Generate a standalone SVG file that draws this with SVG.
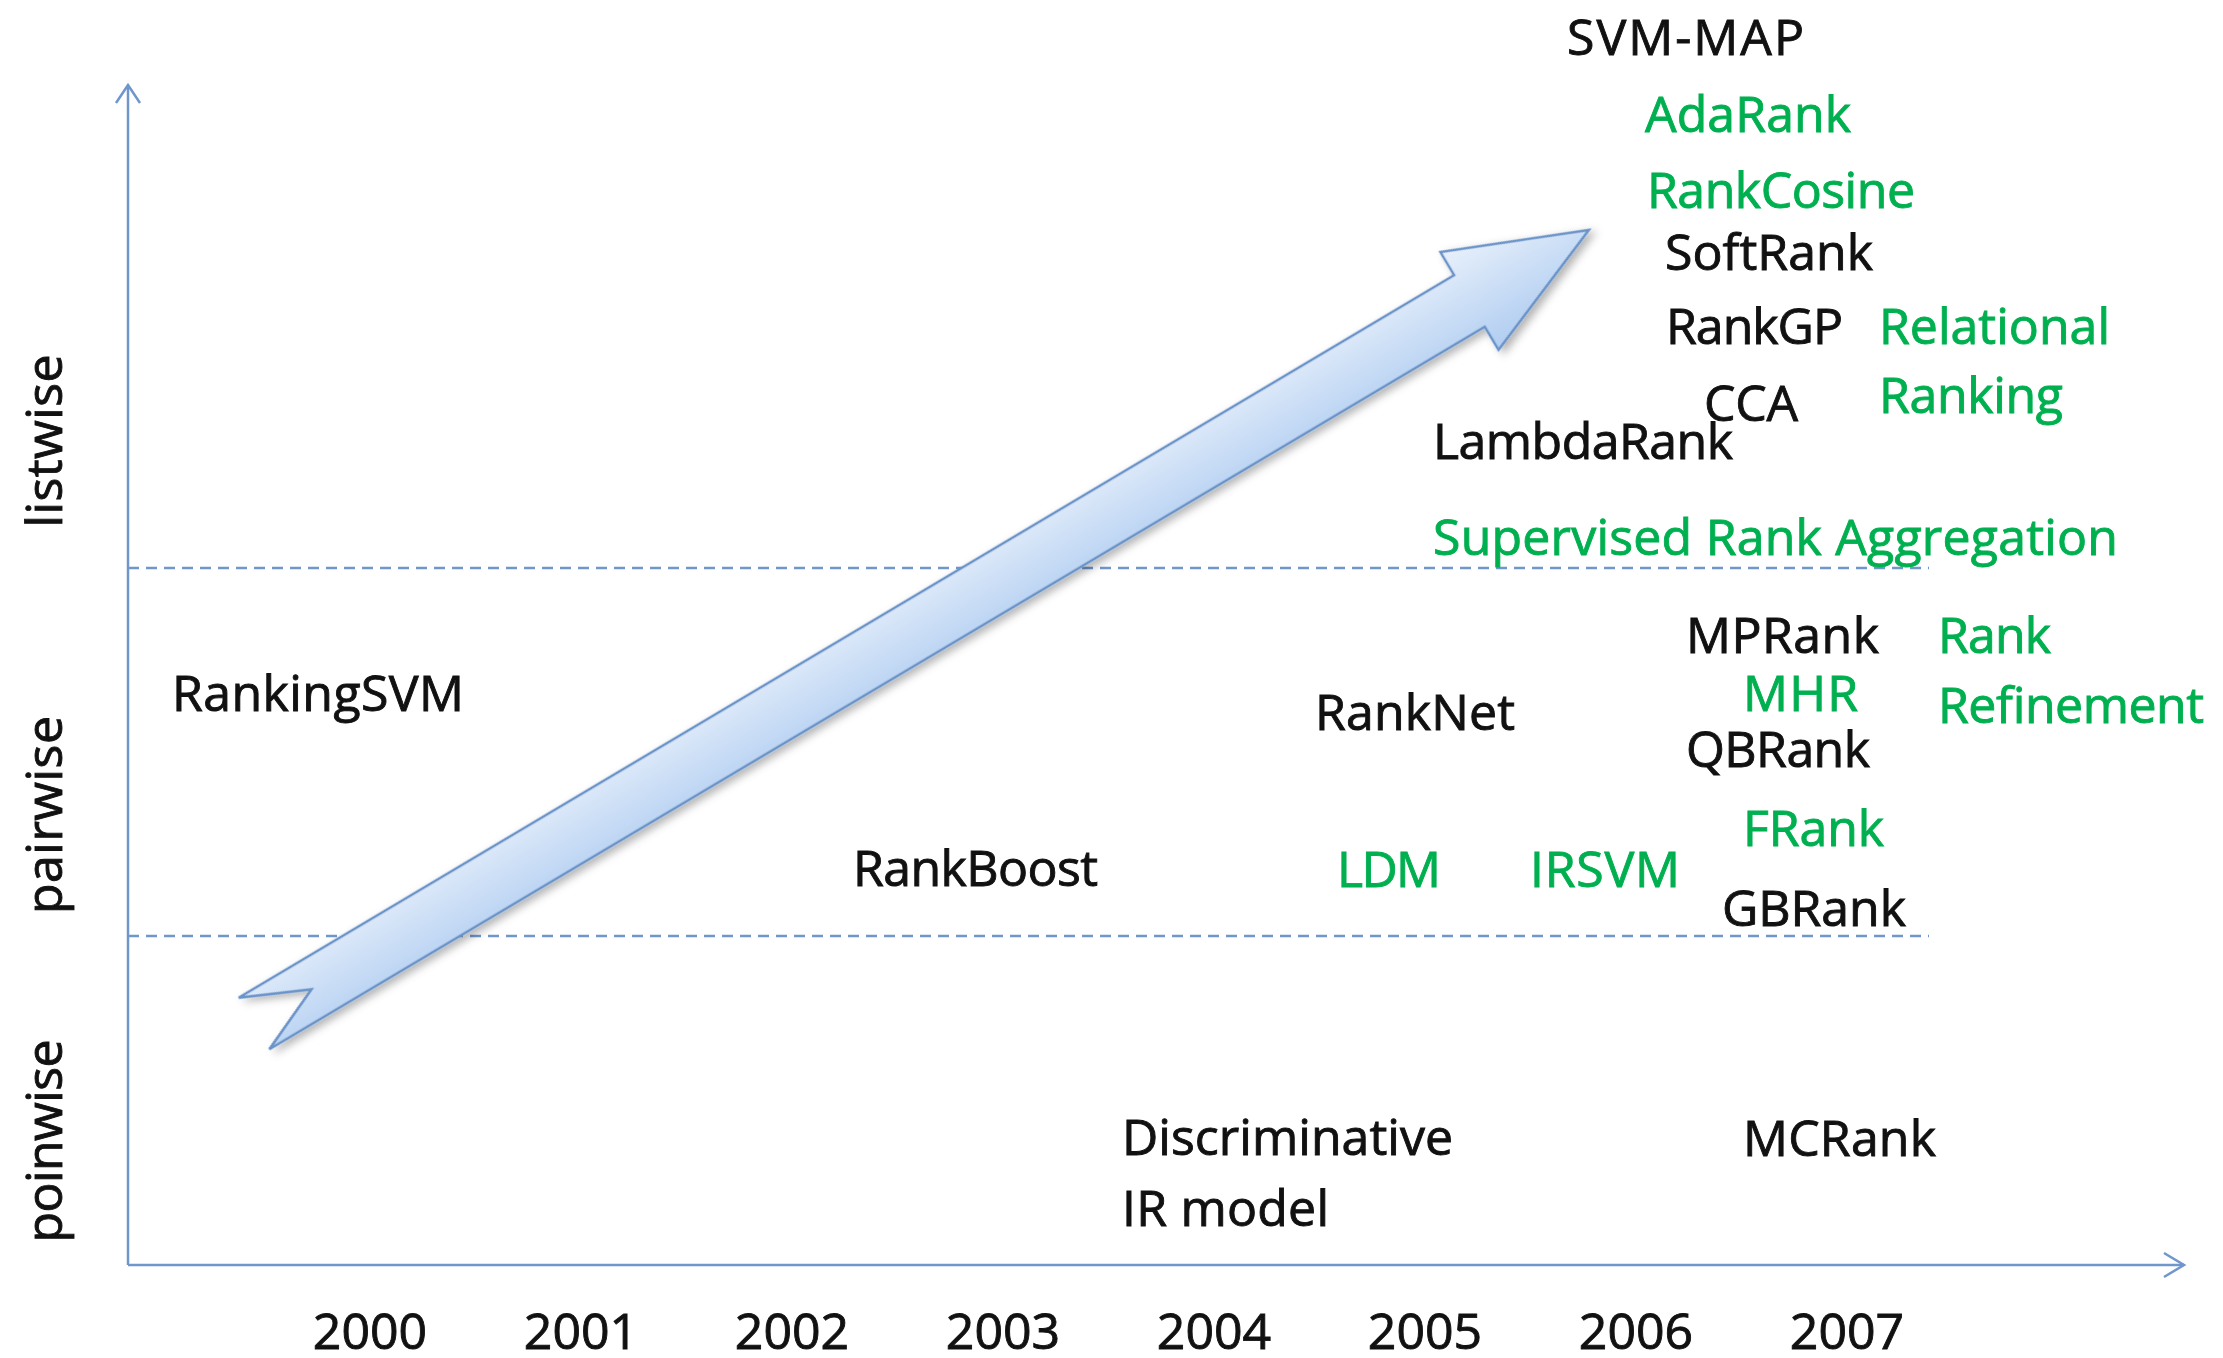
<svg xmlns="http://www.w3.org/2000/svg" width="2223" height="1358" viewBox="0 0 2223 1358">
  <style>
    text { font-family: "Open Sans", "Liberation Sans", Arial, sans-serif; font-size: 50px; stroke-width: 0.9px; }
    .k { fill: #111111; stroke: #111111; }
    .g { fill: #00b050; stroke: #00b050; }
    .yr { fill: #111111; stroke: #111111; text-anchor: middle; }
    .ax { fill: #111111; stroke: #111111; text-anchor: middle; }
    .axis { stroke: #6f97cc; stroke-width: 2.5; fill: none; }
    .dash { stroke: #6f97cc; stroke-width: 2.5; fill: none; stroke-dasharray: 11 7; }
  </style>
  <defs>
    <linearGradient id="arrowFill" gradientUnits="userSpaceOnUse" x1="0" y1="-57" x2="0" y2="57">
      <stop offset="0" stop-color="#e8f0fb"/>
      <stop offset="1" stop-color="#b0cdf1"/>
    </linearGradient>
    <filter id="shadow" x="-10%" y="-10%" width="120%" height="130%">
      <feDropShadow dx="3" dy="5" stdDeviation="4" flood-color="#000000" flood-opacity="0.3"/>
    </filter>
  </defs>
  <rect width="2223" height="1358" fill="#ffffff"/>

  <g id="axes">
    <line class="dash" x1="128" y1="568" x2="1929" y2="568"/>
    <line class="dash" x1="128" y1="936" x2="1929" y2="936"/>
    <line class="axis" x1="128" y1="1265" x2="128" y2="85"/>
    <polyline class="axis" points="116,103 128,85 140,103"/>
    <line class="axis" x1="128" y1="1265" x2="2184" y2="1265"/>
    <polyline class="axis" points="2164,1253 2184,1265 2164,1277"/>
  </g>

  <g id="axis-labels">
    <text class="ax" transform="translate(62,441) rotate(-90)" textLength="173">listwise</text>
    <text class="ax" transform="translate(62,815) rotate(-90)" textLength="198">pairwise</text>
    <text class="ax" transform="translate(62,1141) rotate(-90)" textLength="203">poinwise</text>
  </g>

  <g id="years">
    <text class="yr" x="370" y="1349">2000</text>
    <text class="yr" x="581" y="1349">2001</text>
    <text class="yr" x="792" y="1349">2002</text>
    <text class="yr" x="1003" y="1349">2003</text>
    <text class="yr" x="1214" y="1349">2004</text>
    <text class="yr" x="1425" y="1349">2005</text>
    <text class="yr" x="1636" y="1349">2006</text>
    <text class="yr" x="1847" y="1349">2007</text>
  </g>

  <g id="connectors">
    <g id="trend-arrow" transform="translate(254,1023.5) rotate(-30.73)" filter="url(#shadow)">
      <polygon points="0,-30 1414,-30 1414,-57 1553,0 1414,57 1414,30 0,30 67,0" fill="url(#arrowFill)" stroke="#6a93c8" stroke-width="2.5" stroke-linejoin="miter"/>
    </g>
  </g>

  <g id="n-svmmap"><text class="k" x="1567" y="55" textLength="237">SVM-MAP</text></g>
  <g id="n-adarank"><text class="g" x="1645" y="132" textLength="206">AdaRank</text></g>
  <g id="n-rankcosine"><text class="g" x="1647" y="208" textLength="268">RankCosine</text></g>
  <g id="n-softrank"><text class="k" x="1665" y="270" textLength="208">SoftRank</text></g>
  <g id="n-rankgp"><text class="k" x="1666" y="344" textLength="177">RankGP</text></g>
  <g id="n-relational"><text class="g" x="1879" y="344" textLength="231">Relational</text><text class="g" x="1879" y="413" textLength="184">Ranking</text></g>
  <g id="n-cca"><text class="k" x="1704" y="421" textLength="94">CCA</text></g>
  <g id="n-lambdarank"><text class="k" x="1433" y="459" textLength="300">LambdaRank</text></g>
  <g id="n-sra"><text class="g" x="1433" y="555" textLength="685">Supervised Rank Aggregation</text></g>
  <g id="n-mprank"><text class="k" x="1686" y="653" textLength="193">MPRank</text></g>
  <g id="n-rankrefinement"><text class="g" x="1938" y="653" textLength="113">Rank</text><text class="g" x="1938" y="723" textLength="266">Refinement</text></g>
  <g id="n-mhr"><text class="g" x="1743" y="711" textLength="115">MHR</text></g>
  <g id="n-rankingsvm"><text class="k" x="172" y="711" textLength="292">RankingSVM</text></g>
  <g id="n-ranknet"><text class="k" x="1315" y="730" textLength="200">RankNet</text></g>
  <g id="n-qbrank"><text class="k" x="1686" y="767" textLength="184">QBRank</text></g>
  <g id="n-frank"><text class="g" x="1743" y="846" textLength="141">FRank</text></g>
  <g id="n-rankboost"><text class="k" x="853" y="886" textLength="245">RankBoost</text></g>
  <g id="n-ldm"><text class="g" x="1337" y="887" textLength="104">LDM</text></g>
  <g id="n-irsvm"><text class="g" x="1530" y="887" textLength="150">IRSVM</text></g>
  <g id="n-gbrank"><text class="k" x="1722" y="926" textLength="184">GBRank</text></g>
  <g id="n-discriminative"><text class="k" x="1122" y="1155" textLength="331">Discriminative</text><text class="k" x="1122" y="1226" textLength="207">IR model</text></g>
  <g id="n-mcrank"><text class="k" x="1743" y="1156" textLength="193">MCRank</text></g>
</svg>
